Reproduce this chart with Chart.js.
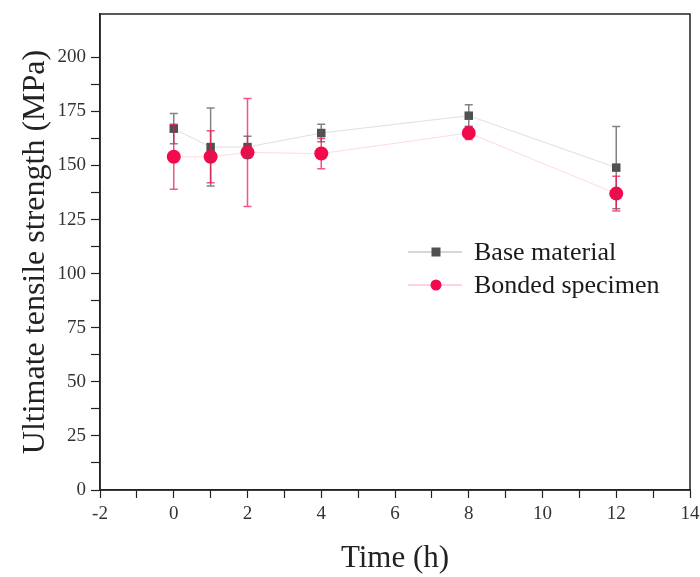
<!DOCTYPE html>
<html>
<head>
<meta charset="utf-8">
<script src="https://cdn.jsdelivr.net/npm/chart.js@4"></script>
<style>
  html, body { margin: 0; padding: 0; background: #fff; }
  #wrap { width: 700px; height: 577px; }
</style>
</head>
<body>
<div id="wrap"><canvas id="tensileChart"></canvas></div>
<script>
const timeHours = [0, 1, 2, 4, 8, 12];
const baseStrength = [167, 158.5, 158.5, 165, 173, 149];
const baseError = [7, 18, 5, 4, 5, 19];
const bondedStrength = [154, 154, 156, 155.5, 165, 137];
const bondedError = [15, 12, 25, 7, 3, 8];
const seriesNames = ['Base material', 'Bonded specimen'];

const serif = "'Liberation Serif', 'Times New Roman', serif";
const baseColor = '#505050';
const bondedColor = '#f20a4c';

const errorBars = {
    id: 'errorBars',
    afterDatasetsDraw(chart) {
        const ctx = chart.ctx;
        const x = chart.scales.x, y = chart.scales.y;
        const sets = [
            { vals: baseStrength, err: baseError, color: 'rgba(90,90,90,0.75)' },
            { vals: bondedStrength, err: bondedError, color: 'rgba(242,10,76,0.7)' }
        ];
        ctx.save();
        ctx.lineWidth = 1.5;
        sets.forEach(s => {
            ctx.strokeStyle = s.color;
            timeHours.forEach((t, i) => {
                const px = x.getPixelForValue(t);
                const top = y.getPixelForValue(s.vals[i] + s.err[i]);
                const bot = y.getPixelForValue(s.vals[i] - s.err[i]);
                ctx.beginPath();
                ctx.moveTo(px, top); ctx.lineTo(px, bot);
                ctx.moveTo(px - 4, top); ctx.lineTo(px + 4, top);
                ctx.moveTo(px - 4, bot); ctx.lineTo(px + 4, bot);
                ctx.stroke();
            });
        });
        // frame
        const a = chart.chartArea;
        ctx.strokeStyle = '#222';
        ctx.lineWidth = 1.5;
        ctx.strokeRect(a.left, a.top, a.right - a.left, a.bottom - a.top);

        // legend inside plot
        ctx.font = '26px ' + serif;
        ctx.textBaseline = 'middle';
        const lx = 436;
        const rows = [{ y: 252, color: baseColor, style: 'rect', line: 'rgba(120,120,120,0.6)' },
                      { y: 285, color: bondedColor, style: 'circle', line: 'rgba(242,10,76,0.35)' }];
        rows.forEach((r, i) => {
            ctx.strokeStyle = r.line;
            ctx.lineWidth = 1;
            ctx.beginPath();
            ctx.moveTo(lx - 28, r.y); ctx.lineTo(lx + 26, r.y);
            ctx.stroke();
            ctx.fillStyle = r.color;
            if (r.style === 'rect') {
                ctx.fillRect(lx - 4.5, r.y - 4.5, 9, 9);
            } else {
                ctx.beginPath();
                ctx.arc(lx, r.y, 5.5, 0, Math.PI * 2);
                ctx.fill();
            }
            ctx.fillStyle = '#1a1a1a';
            ctx.fillText(seriesNames[i], 474, r.y + 1);
        });
        ctx.restore();
    }
};

new Chart(document.getElementById('tensileChart').getContext('2d'), {
    type: 'line',
    data: {
        datasets: [{
            label: seriesNames[0],
            data: timeHours.map((t, i) => ({ x: t, y: baseStrength[i] })),
            borderColor: 'rgba(150,150,150,0.3)',
            borderWidth: 1,
            backgroundColor: baseColor,
            pointStyle: 'rect',
            pointRadius: 6,
            pointBorderWidth: 0,
            order: 2
        }, {
            label: seriesNames[1],
            data: timeHours.map((t, i) => ({ x: t, y: bondedStrength[i] })),
            borderColor: 'rgba(242,10,76,0.15)',
            borderWidth: 1,
            backgroundColor: bondedColor,
            pointStyle: 'circle',
            pointRadius: 7,
            pointBorderWidth: 0,
            order: 1
        }]
    },
    options: {
        responsive: true,
        maintainAspectRatio: false,
        animation: false,
        layout: { padding: { top: 14, right: 10, left: 0, bottom: 0 } },
        plugins: {
            legend: { display: false },
            tooltip: { enabled: false }
        },
        scales: {
            x: {
                type: 'linear',
                min: -2,
                max: 14,
                afterFit: s => { s.height = 87; s.paddingRight = 0; s.paddingLeft = 0; },
                grid: { drawOnChartArea: false, tickLength: 8, color: '#222', tickWidth: 1.2 },
                border: { color: '#222', width: 1.5 },
                ticks: {
                    stepSize: 1,
                    autoSkip: false,
                    maxRotation: 0,
                    padding: 5,
                    color: '#333',
                    font: { family: serif, size: 19 },
                    callback: v => (v % 2 === 0 ? v : '')
                },
                title: {
                    display: true,
                    text: 'Time (h)',
                    color: '#222',
                    font: { family: serif, size: 31 },
                    padding: { top: 0, bottom: 0 }
                }
            },
            y: {
                min: 0,
                max: 220,
                afterFit: s => { s.width = 100; s.paddingTop = 0; s.paddingBottom = 0; },
                afterBuildTicks: s => { s.ticks = s.ticks.filter(t => t.value % 12.5 === 0); },
                grid: { drawOnChartArea: false, tickLength: 9, color: '#222', tickWidth: 1.2 },
                border: { color: '#222', width: 1.5 },
                ticks: {
                    stepSize: 12.5,
                    autoSkip: false,
                    padding: 5,
                    color: '#333',
                    font: { family: serif, size: 19 },
                    callback: v => (v % 25 === 0 ? v : '')
                },
                title: {
                    display: true,
                    text: 'Ultimate tensile strength (MPa)',
                    color: '#222',
                    font: { family: serif, size: 32 },
                    padding: { top: 16, bottom: 0 }
                }
            }
        }
    },
    plugins: [errorBars]
});
</script>
</body>
</html>
